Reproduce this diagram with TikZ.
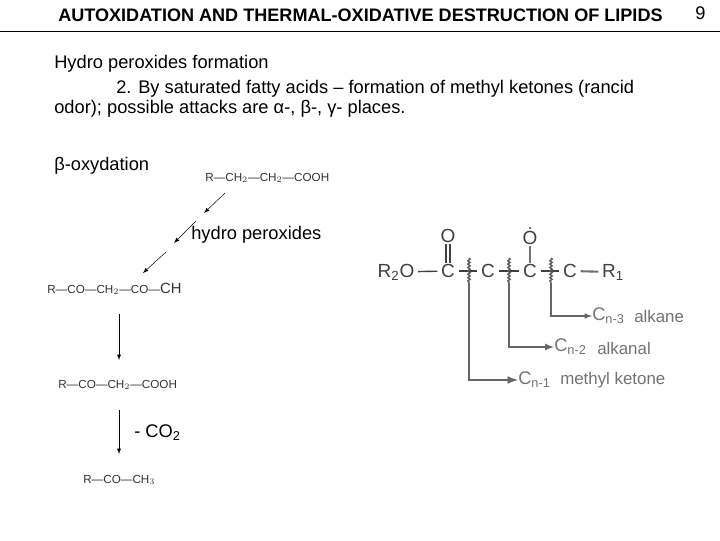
\documentclass[tikz,border=0pt]{standalone}
\usepackage{fontspec}
\setmainfont{Liberation Sans}
\usetikzlibrary{decorations.pathmorphing}
\tikzset{
	txt/.style={anchor=west, inner sep=0pt, font=\fontsize{13}{15}\selectfont},
	chem/.style={anchor=west, inner sep=0pt, text=black!80, font=\fontsize{8.3}{9}\selectfont},
	blur/.style={inner xsep=2.5pt, inner ysep=0.5pt, text=black!75, font=\fontsize{13.5}{15}\selectfont},
	small/.style={anchor=west, inner sep=0pt, text=black!55, font=\fontsize{12}{14}\selectfont},
	bond/.style={line width=1pt, black!75},
	cut/.style={line width=1pt, black!65, decorate, decoration={snake, amplitude=0.8pt, segment length=2.4pt}},
	lead/.style={line width=1pt, black!60, -latex},
	react/.style={line width=0.35pt, ->, >=latex}
}
\begin{document}
\begin{tikzpicture}[x=0.025cm, y=-0.025cm]
\useasboundingbox (0, 0) rectangle (720, 540);

\node[txt, font=\fontsize{12.85}{15}\selectfont\bfseries] (title) at (58, 15) {AUTOXIDATION AND THERMAL-OXIDATIVE DESTRUCTION OF LIPIDS};
\node[txt] (page) at (695, 13) {9};
\draw[line width=0.5pt] (0, 31) -- (720, 31);

\node[txt] (line1) at (54, 64) {Hydro peroxides formation};
\node[txt] (line2) at (116, 89) {2. By saturated fatty acids – formation of methyl ketones (rancid};
\node[txt] (line3) at (54, 109) {odor); possible attacks are α-, β-, γ- places.};
\node[txt] (beta) at (54, 166) {β-oxydation};
\node[txt] (hydro) at (191, 235) {hydro peroxides};
\node[txt] (co2) at (134, 433) {- CO\textsubscript{2}};

% left column
\node[chem] (acid) at (205, 178) {R—CH$_2$—CH$_2$—COOH};
\node[chem] (keto) at (47, 289) {R—CO—CH$_2$—CO—{\fontsize{10.5}{11}\selectfont CH}};
\node[chem] (ketoacid) at (58, 385) {R—CO—CH$_2$—COOH};
\node[chem] (ketone) at (83, 480) {R—CO—CH$_3$};

\foreach \a/\b/\c/\d in {
	225/193/204/213,
	196/221/174/243,
	166/252/143/273,
	119/314/119/360,
	119/410/119/454}
	\draw[react] (\a, \b) -- (\c, \d);

% right scheme
\node[blur] (r2o) at (396, 272) {R\textsubscript{2}O};
\node[blur] (c1) at (448, 271) {C};
\node[blur] (c2) at (488, 271) {C};
\node[blur] (c3) at (530, 271) {C};
\node[blur] (c4) at (570, 271) {C};
\node[blur] (r1) at (613, 272) {R\textsubscript{1}};
\node[blur] (o1) at (448, 236) {O};
\node[blur] (o2) at (530, 238) {O};
\fill[black!75] (530, 228) circle (1.2);

\draw[bond] (r2o) -- (c1);
\draw[bond] (c1) -- (c2);
\draw[bond] (c2) -- (c3);
\draw[bond] (c3) -- (c4);
\draw[bond, line width=1.5pt, black!55] (c4) -- (r1);
\draw[bond] ([xshift=-1.5]o1.south) -- ([xshift=-1.5]c1.north);
\draw[bond] ([xshift=1.5]o1.south) -- ([xshift=1.5]c1.north);
\draw[bond, line width=1.5pt, black!55] (o2) -- (c3);

\node[small, font=\fontsize{13}{14}\selectfont] (cn3) at (592, 316) {C\textsubscript{n-3}};
\node[small] (alkane) at (634, 316) {alkane};
\node[small, font=\fontsize{13}{14}\selectfont] (cn2) at (554, 347) {C\textsubscript{n-2}};
\node[small] (alkanal) at (597, 348) {alkanal};
\node[small, font=\fontsize{13}{14}\selectfont] (cn1) at (518, 380) {C\textsubscript{n-1}};
\node[small] (methyl) at (560, 380) {methyl ketone};

\foreach \x/\w/\t in {469/1.5/cn1, 509/1.2/cn2, 551/0.8/cn3} {
	\coordinate (top\t) at (\x, 258);
	\coordinate (low\t) at (\x, 283);
	\draw[cut] (top\t) -- (low\t);
	\draw[lead, line width=\w pt] (low\t) |- (\t.west);
}
\end{tikzpicture}
\end{document}
